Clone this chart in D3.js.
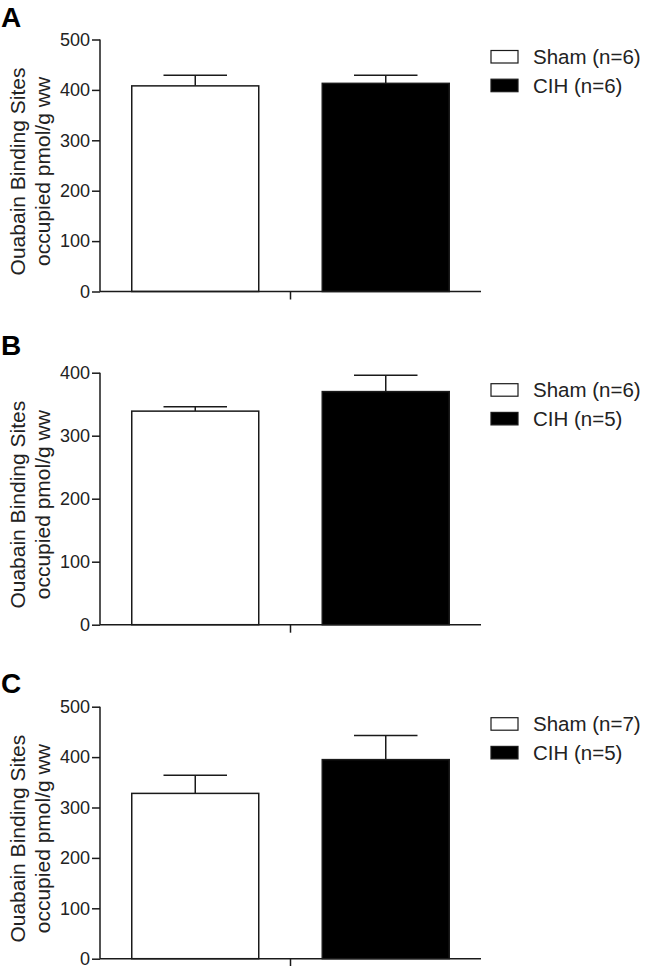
<!DOCTYPE html>
<html>
<head>
<meta charset="utf-8">
<script src="https://cdn.jsdelivr.net/npm/d3@7"></script>
<style>
  body { margin: 0; background: #fff; }
  svg { display: block; }
  text { font-family: "Liberation Sans", Arial, sans-serif; fill: #222; }
</style>
</head>
<body>
<svg id="chart" width="645" height="966"></svg>
<script>
// one entry per panel
var panelLabels = ["A", "B", "C"];
var groups = ["Sham", "CIH"];
var yMax = [500, 400, 500];
var yTicks = [
  [0, 100, 200, 300, 400, 500],
  [0, 100, 200, 300, 400],
  [0, 100, 200, 300, 400, 500]
];
var means = [
  [408, 413],
  [339, 370],
  [328, 395]
];
var sems = [
  [21, 16],
  [7, 26],
  [36, 48]
];
var legendLabels = [
  ["Sham (n=6)", "CIH (n=6)"],
  ["Sham (n=6)", "CIH (n=5)"],
  ["Sham (n=7)", "CIH (n=5)"]
];
var yTitle = ["Ouabain Binding Sites", "occupied pmol/g ww"];

// layout (axis top in page pixels)
var axisTop = [39.5, 372.7, 706.7];
var axisHeight = 252;
var labelBase = [27, 355, 693];
var axisLeft = 100, axisRight = 481;
var ink = "#1a1a1a";

var svg = d3.select("#chart");

panelLabels.forEach(function(lab, p) {
  var g = svg.append("g").attr("transform", "translate(0," + axisTop[p] + ")");

  var x = d3.scaleBand()
    .domain(groups)
    .range([axisLeft, axisRight])
    .paddingInner(1 / 3)
    .paddingOuter(1 / 6);

  var y = d3.scaleLinear()
    .domain([0, yMax[p]])
    .range([axisHeight, 0]);

  // panel letter
  svg.append("text")
    .attr("x", 1)
    .attr("y", labelBase[p])
    .style("font-size", "28px")
    .style("font-weight", "bold")
    .style("fill", "#000")
    .text(lab);

  var data = groups.map(function(k, i) {
    return { key: k, mean: means[p][i], sem: sems[p][i] };
  });

  // error bars (upper only)
  var eb = g.selectAll("g.err").data(data).enter().append("g").attr("class", "err");
  eb.append("line")
    .attr("x1", function(d) { return x(d.key) + x.bandwidth() / 2; })
    .attr("x2", function(d) { return x(d.key) + x.bandwidth() / 2; })
    .attr("y1", function(d) { return y(d.mean); })
    .attr("y2", function(d) { return y(d.mean + d.sem); })
    .attr("stroke", ink).attr("stroke-width", 1.5);
  eb.append("line")
    .attr("x1", function(d) { return x(d.key) + x.bandwidth() / 4; })
    .attr("x2", function(d) { return x(d.key) + x.bandwidth() * 3 / 4; })
    .attr("y1", function(d) { return y(d.mean + d.sem); })
    .attr("y2", function(d) { return y(d.mean + d.sem); })
    .attr("stroke", ink).attr("stroke-width", 1.5);

  // bars
  g.selectAll("rect.bar").data(data).enter().append("rect")
    .attr("class", "bar")
    .attr("x", function(d) { return x(d.key); })
    .attr("width", x.bandwidth())
    .attr("y", function(d) { return y(d.mean); })
    .attr("height", function(d) { return axisHeight - y(d.mean); })
    .attr("fill", function(d, i) { return i == 0 ? "#fff" : "#000"; })
    .attr("stroke", ink)
    .attr("stroke-width", 1.5);

  // y axis
  var ya = g.append("g")
    .attr("transform", "translate(" + axisLeft + ",0)")
    .call(d3.axisLeft(y).tickValues(yTicks[p]).tickSize(8).tickPadding(2).tickFormat(d3.format("d")));
  ya.select(".domain").attr("stroke", ink).attr("stroke-width", 1.5).attr("d", "M0," + axisHeight + "V0");
  ya.selectAll(".tick line").attr("stroke", ink).attr("stroke-width", 1.5);
  ya.selectAll(".tick text").style("font-size", "18px").style("fill", "#222").attr("font-family", null);

  // x axis: plain line with one centre tick
  g.append("line")
    .attr("x1", axisLeft).attr("x2", axisRight)
    .attr("y1", axisHeight).attr("y2", axisHeight)
    .attr("stroke", ink).attr("stroke-width", 1.5);
  g.append("line")
    .attr("x1", (axisLeft + axisRight) / 2).attr("x2", (axisLeft + axisRight) / 2)
    .attr("y1", axisHeight).attr("y2", axisHeight + 8)
    .attr("stroke", ink).attr("stroke-width", 1.5);

  // y title, two lines
  var t = g.append("text")
    .attr("transform", "translate(25," + (axisHeight / 2 + 6) + ") rotate(-90)")
    .attr("text-anchor", "middle")
    .style("font-size", "21px");
  t.append("tspan").attr("x", 0).attr("y", 0).text(yTitle[0]);
  t.append("tspan").attr("x", 0).attr("y", 25).text(yTitle[1]);

  // legend
  var lg = g.selectAll("g.leg").data(legendLabels[p]).enter().append("g")
    .attr("class", "leg")
    .attr("transform", function(d, i) { return "translate(491," + (11 + i * 28.7) + ")"; });
  lg.append("rect")
    .attr("width", 27).attr("height", 12.5)
    .attr("fill", function(d, i) { return i == 0 ? "#fff" : "#000"; })
    .attr("stroke", ink).attr("stroke-width", 1.2);
  lg.append("text")
    .attr("x", 42)
    .attr("y", 13.5)
    .style("font-size", "20.5px")
    .text(function(d) { return d; });
});
</script>
</body>
</html>
